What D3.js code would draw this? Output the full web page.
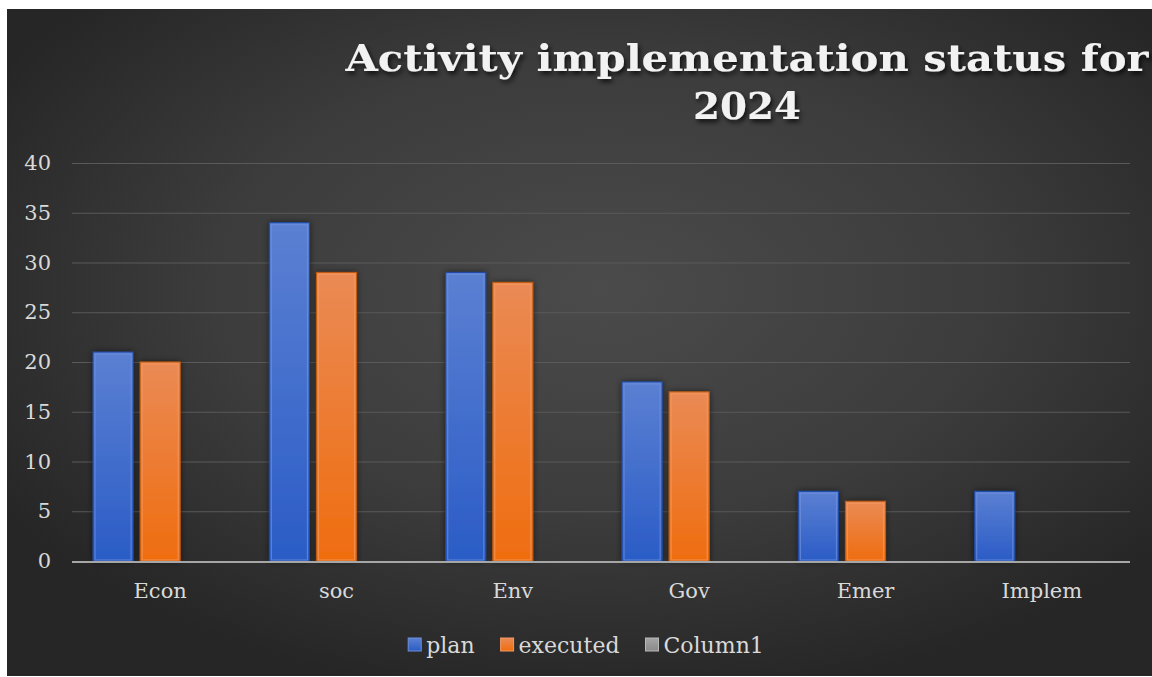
<!DOCTYPE html>
<html>
<head>
<meta charset="utf-8">
<script src="https://cdn.jsdelivr.net/npm/d3@7"></script>
<style>
  html, body { margin: 0; padding: 0; background: #ffffff; }
  svg { display: block; }
  text { font-family: "DejaVu Serif", "Liberation Serif", serif; }
</style>
</head>
<body>
<svg id="chart" width="1152" height="677"></svg>
<script>
// Chart data
const categories = ["Econ", "soc", "Env", "Gov", "Emer", "Implem"];
const seriesNames = ["plan", "executed", "Column1"];
const planValues = [21, 34, 29, 18, 7, 7];
const executedValues = [20, 29, 28, 17, 6, null];
const column1Values = [null, null, null, null, null, null];
const yTicks = [0, 5, 10, 15, 20, 25, 30, 35, 40];
const titleLines = ["Activity implementation status for", "2024"];

const W = 1152, H = 677;
const svg = d3.select("#chart");
const defs = svg.append("defs");

// Background: dark panel with a soft central glow
const bg = defs.append("radialGradient").attr("id", "bgGrad")
  .attr("cx", "52%").attr("cy", "42%").attr("r", "62%");
bg.append("stop").attr("offset", "0%").attr("stop-color", "#4b4b4b");
bg.append("stop").attr("offset", "55%").attr("stop-color", "#3c3c3c");
bg.append("stop").attr("offset", "100%").attr("stop-color", "#262626");

// Bar gradients per series
const palette = {
  plan: { top: "#5b80d2", bottom: "#2a5cc6", edge: "#6f90db", line: "#1f4aa8" },
  executed: { top: "#ea8a55", bottom: "#ef6d0f", edge: "#f29a63", line: "#c45a0c" },
  Column1: { top: "#a5a5a5", bottom: "#8a8a8a", edge: "#b8b8b8", line: "#707070" }
};
seriesNames.forEach(s => {
  const g = defs.append("linearGradient").attr("id", "grad-" + s)
    .attr("x1", 0).attr("y1", 0).attr("x2", 0).attr("y2", 1);
  g.append("stop").attr("offset", "0%").attr("stop-color", palette[s].top);
  g.append("stop").attr("offset", "100%").attr("stop-color", palette[s].bottom);
});

const shadow = defs.append("filter").attr("id", "barShadow")
  .attr("x", "-30%").attr("y", "-10%").attr("width", "160%").attr("height", "120%");
shadow.append("feDropShadow").attr("dx", 0).attr("dy", 0)
  .attr("stdDeviation", 3).attr("flood-color", "#000").attr("flood-opacity", 0.55);

const titleShadow = defs.append("filter").attr("id", "titleShadow")
  .attr("x", "-5%").attr("y", "-30%").attr("width", "110%").attr("height", "160%");
titleShadow.append("feDropShadow").attr("dx", 2).attr("dy", 3)
  .attr("stdDeviation", 2.5).attr("flood-color", "#000").attr("flood-opacity", 0.75);

// Panel
svg.append("rect").attr("x", 7).attr("y", 9).attr("width", W - 7).attr("height", H - 10)
  .attr("fill", "url(#bgGrad)");

// Scales
const x0 = d3.scaleBand().domain(categories).range([72, 1130]).paddingInner(0).paddingOuter(0);
const x1 = d3.scaleBand().domain(seriesNames).range([0, x0.bandwidth()])
  .paddingInner(0.149).paddingOuter(0.447);
const y = d3.scaleLinear().domain([0, 40]).range([561, 163]);

// Gridlines
const grid = svg.append("g").attr("class", "grid")
  .call(d3.axisLeft(y).tickValues(yTicks).tickSize(-(1130 - 72)).tickFormat(""))
  .attr("transform", "translate(72,0)");
grid.select(".domain").remove();
grid.selectAll("line").attr("stroke", "#5a5a5a").attr("stroke-width", 1.2);

// Y tick labels
const yAxis = svg.append("g").attr("transform", "translate(51,0)")
  .call(d3.axisLeft(y).tickValues(yTicks).tickSize(0).tickPadding(0));
yAxis.select(".domain").remove();
yAxis.selectAll("text")
  .attr("fill", "#d9d9d9").attr("font-size", 21)
  .style("font-family", "'DejaVu Serif', serif");

// Bars
const rows = categories.map((c, i) => ({
  category: c,
  values: [
    { series: "plan", value: planValues[i] },
    { series: "executed", value: executedValues[i] },
    { series: "Column1", value: column1Values[i] }
  ]
}));

const groups = svg.append("g").selectAll("g").data(rows).join("g")
  .attr("transform", d => `translate(${x0(d.category)},0)`);

const bars = groups.selectAll("g.bar")
  .data(d => d.values.filter(v => v.value != null && v.value > 0))
  .join("g").attr("class", "bar");

bars.append("rect")
  .attr("x", d => x1(d.series))
  .attr("y", d => y(d.value))
  .attr("width", x1.bandwidth())
  .attr("height", d => y(0) - y(d.value))
  .attr("fill", d => `url(#grad-${d.series})`)
  .attr("stroke", d => palette[d.series].line)
  .attr("stroke-width", 1)
  .attr("filter", "url(#barShadow)");

// Bevel highlight inside each bar
bars.append("rect")
  .attr("x", d => x1(d.series) + 2)
  .attr("y", d => y(d.value) + 2)
  .attr("width", x1.bandwidth() - 4)
  .attr("height", d => Math.max(0, y(0) - y(d.value) - 3))
  .attr("fill", "none")
  .attr("stroke", d => palette[d.series].edge)
  .attr("stroke-opacity", 0.7)
  .attr("stroke-width", 1.2);

// Baseline
svg.append("line").attr("x1", 72).attr("x2", 1130)
  .attr("y1", y(0) + 1).attr("y2", y(0) + 1)
  .attr("stroke", "#a6a6a6").attr("stroke-width", 2.2);

// Category labels
const xAxis = svg.append("g").attr("transform", `translate(0,${y(0) + 21})`)
  .call(d3.axisBottom(x0).tickSize(0).tickPadding(0));
xAxis.select(".domain").remove();
xAxis.selectAll("text")
  .attr("fill", "#d9d9d9").attr("font-size", 21).attr("dy", "0.75em")
  .style("font-family", "'DejaVu Serif', serif");

// Title
const title = svg.append("g").attr("filter", "url(#titleShadow)");
title.append("text")
  .attr("x", 747).attr("y", 71).attr("text-anchor", "middle")
  .attr("font-size", 37).attr("font-weight", "bold").attr("fill", "#f2f2f2")
  .attr("textLength", 803).attr("lengthAdjust", "spacingAndGlyphs")
  .text(titleLines[0]);
title.append("text")
  .attr("x", 747).attr("y", 119).attr("text-anchor", "middle")
  .attr("font-size", 37).attr("font-weight", "bold").attr("fill", "#f2f2f2")
  .attr("textLength", 108).attr("lengthAdjust", "spacingAndGlyphs")
  .text(titleLines[1]);

// Legend
const legend = svg.append("g");
const items = legend.selectAll("g").data(seriesNames).join("g");
items.append("rect")
  .attr("width", 13).attr("height", 13).attr("y", -7)
  .attr("fill", d => `url(#grad-${d})`)
  .attr("stroke", d => palette[d].edge).attr("stroke-width", 1);
items.append("text")
  .attr("x", 18).attr("y", 0).attr("dy", "0.35em")
  .attr("font-size", 22).attr("fill", "#d9d9d9")
  .text(d => d);
let cursor = 0;
const gap = 26;
items.each(function () {
  const w = this.getBBox().width;
  d3.select(this).attr("transform", `translate(${cursor},645)`);
  cursor += w + gap;
});
const totalW = cursor - gap;
legend.attr("transform", `translate(${586 - totalW / 2},0)`);
</script>
</body>
</html>
